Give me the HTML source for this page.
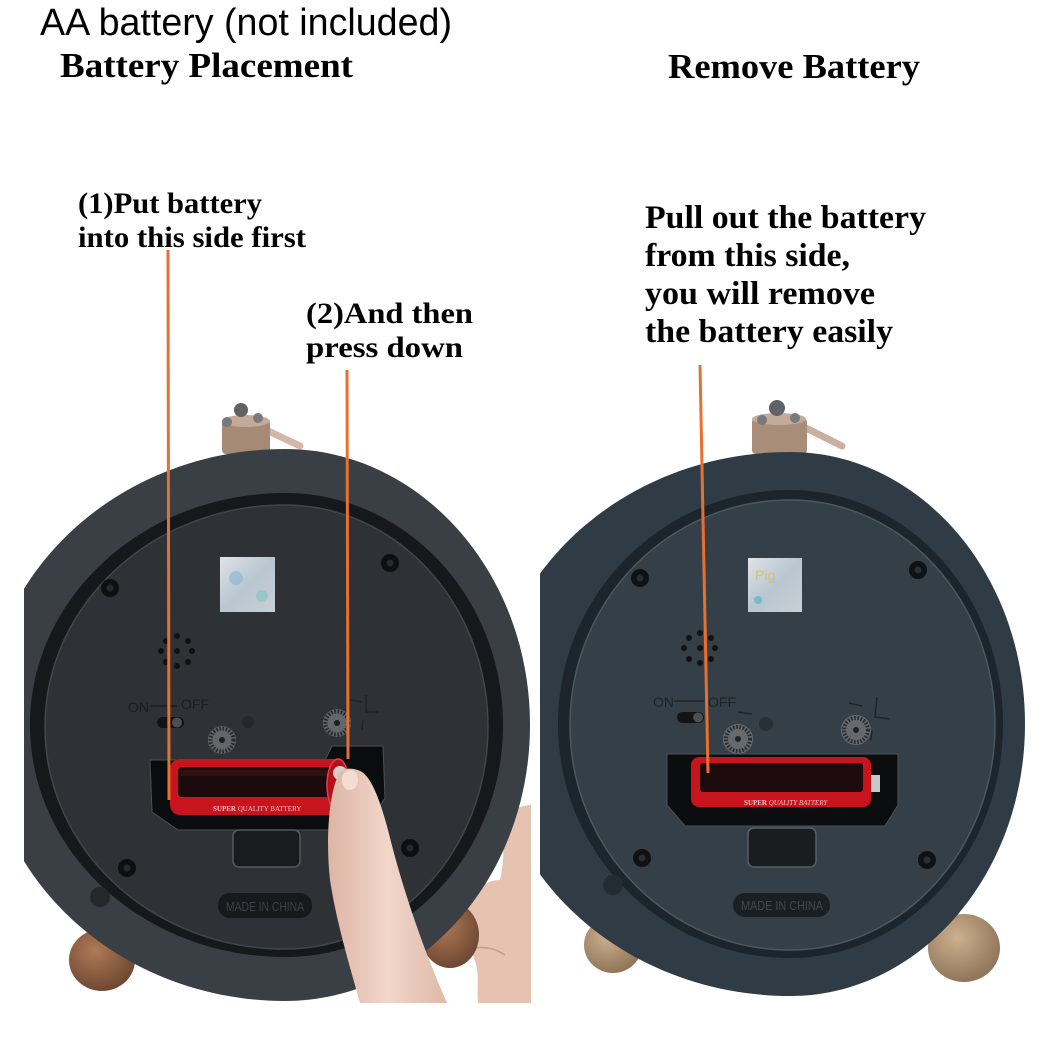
<!DOCTYPE html>
<html><head><meta charset="utf-8"><style>
html,body{margin:0;padding:0;background:#fff;}
svg{display:block;}
</style></head><body>
<svg width="1049" height="1048" viewBox="0 0 1049 1048" xmlns="http://www.w3.org/2000/svg">
<defs>
<clipPath id="cl"><rect x="24" y="395" width="507" height="608"/></clipPath>
<clipPath id="cr"><rect x="540" y="395" width="490" height="608"/></clipPath>
<radialGradient id="footL" cx="40%" cy="35%" r="70%"><stop offset="0" stop-color="#b07a55"/><stop offset="1" stop-color="#6a4530"/></radialGradient>
<radialGradient id="footR" cx="40%" cy="35%" r="70%"><stop offset="0" stop-color="#cdb08e"/><stop offset="1" stop-color="#8d7156"/></radialGradient>
<linearGradient id="stk" x1="0" y1="0" x2="1" y2="1"><stop offset="0" stop-color="#dfe3e7"/><stop offset="0.5" stop-color="#b9c6d0"/><stop offset="1" stop-color="#c9cfd4"/></linearGradient>
<linearGradient id="skin" x1="0" y1="0" x2="1" y2="0"><stop offset="0" stop-color="#dcb5a5"/><stop offset="0.5" stop-color="#f1d6ca"/><stop offset="1" stop-color="#dfb9a8"/></linearGradient>
</defs>
<rect width="1049" height="1048" fill="#fff"/>

<!-- ============ LEFT PHOTO ============ -->
<g clip-path="url(#cl)">
  <path d="M506,812 C515,808 526,805 531,805 L531,1003 L478,1003 C476,985 482,970 470,950 C462,935 462,915 470,900 C478,885 490,880 500,880 C505,860 503,835 506,812 Z" fill="#e6c2b1"/>
  <path d="M470,950 C480,945 495,948 505,955" stroke="#c99c88" stroke-width="1.5" fill="none"/>
  <ellipse cx="102" cy="960" rx="33" ry="31" fill="url(#footL)"/>
  <ellipse cx="450" cy="935" rx="29" ry="33" fill="url(#footL)"/>
  <path d="M262,428 L300,446" stroke="#d3b8aa" stroke-width="7" stroke-linecap="round"/>
  <rect x="222" y="420" width="48" height="34" rx="4" fill="#a58a75"/>
  <ellipse cx="246" cy="421" rx="24" ry="6" fill="#c4ab99"/>
  <circle cx="241" cy="410" r="7" fill="#5f6166"/>
  <circle cx="227" cy="422" r="5" fill="#77797d"/>
  <circle cx="258" cy="418" r="5" fill="#77797d"/>
  <path d="M285,449 C420.3,449 530,572.6 530,725 C530,877.4 420.3,1001 285,1001 C119.3,1001 -15,877.4 -15,725 C-15,572.6 119.3,449 285,449 Z" fill="#393f45"/>
  <path d="M285,493 C405.4,493 503,596.9 503,725 C503,853.1 405.4,957 285,957 C144.2,957 30,853.1 30,725 C30,596.9 144.2,493 285,493 Z" fill="#16181b"/>
  <path d="M285,505 C397.1,505 488,604.4 488,727 C488,849.6 397.1,949 285,949 C152.4,949 45,849.6 45,727 C45,604.4 152.4,505 285,505 Z" fill="#2e3236" stroke="#40464b" stroke-width="1.5"/>
  <circle cx="100" cy="897" r="10" fill="#24282b"/>
  <rect x="220" y="557" width="55" height="55" fill="url(#stk)"/>
  <circle cx="236" cy="578" r="7" fill="#86b7d6" opacity="0.6"/>
  <circle cx="262" cy="596" r="6" fill="#7ac2c0" opacity="0.5"/>
  <g fill="#0d0f10"><circle cx="110" cy="588" r="9"/><circle cx="390" cy="563" r="9"/><circle cx="127" cy="868" r="9"/><circle cx="410" cy="848" r="9"/></g>
  <g fill="#272a2d"><circle cx="110" cy="588" r="3.5"/><circle cx="390" cy="563" r="3.5"/><circle cx="127" cy="868" r="3.5"/><circle cx="410" cy="848" r="3.5"/></g>
  <g fill="#0e1011"><circle cx="166" cy="641" r="3"/><circle cx="177" cy="636" r="3"/><circle cx="188" cy="641" r="3"/><circle cx="161" cy="651" r="3"/><circle cx="177" cy="651" r="3"/><circle cx="192" cy="651" r="3"/><circle cx="166" cy="662" r="3"/><circle cx="177" cy="666" r="3"/><circle cx="188" cy="662" r="3"/></g>
  <text x="128" y="712" font-family="Liberation Sans, sans-serif" font-size="14" fill="#1a1d20">ON</text>
  <text x="181" y="709" font-family="Liberation Sans, sans-serif" font-size="14" fill="#1a1d20">OFF</text>
  <line x1="150" y1="706" x2="177" y2="706" stroke="#1a1d20" stroke-width="1.5"/>
  <rect x="157" y="717" width="27" height="11" rx="5.5" fill="#111315"/>
  <circle cx="177" cy="722.5" r="5" fill="#4a4f53"/>
  <g><circle cx="222" cy="740" r="14" fill="#62676b"/><circle cx="222" cy="740" r="11.5" fill="none" stroke="#25282b" stroke-width="4" stroke-dasharray="1.6 1.6"/><circle cx="222" cy="740" r="3" fill="#1e1e1e"/></g>
  <g><circle cx="337" cy="723" r="14" fill="#62676b"/><circle cx="337" cy="723" r="11.5" fill="none" stroke="#25282b" stroke-width="4" stroke-dasharray="1.6 1.6"/><circle cx="337" cy="723" r="3" fill="#1e1e1e"/></g>
  <circle cx="248" cy="722" r="6" fill="#24282b"/>
  <path d="M350,700 L362,702 M366,695 L366,712 L378,712 M363,720 L362,730" stroke="#1f2326" stroke-width="1.5" fill="none"/>
  <path d="M150,760 L325,760 L332,746 L383,746 L385,798 L372,818 L362,830 L178,830 L152,812 Z" fill="#0b0c0d" stroke="#4a5055" stroke-width="1"/>
  <rect x="233" y="830" width="67" height="37" rx="6" fill="#191c1e" stroke="#545a5f" stroke-width="1.5"/>
  <rect x="170" y="759" width="175" height="56" rx="10" fill="#c8141c"/>
  <rect x="178" y="767" width="157" height="30" rx="4" fill="#1c0a0c"/>
  <rect x="180" y="770" width="150" height="6" fill="#3a1216" opacity="0.7"/>
  <ellipse cx="338" cy="785" rx="11" ry="26" fill="#b3101a" stroke="#e0404a" stroke-width="1.5"/>
  <circle cx="340" cy="773" r="7" fill="#cfcfcf"/>
  <text x="213" y="811" font-family="Liberation Serif, serif" font-size="7" font-weight="bold" fill="#f0c0c0">SUPER <tspan font-weight="normal">QUALITY BATTERY</tspan></text>
  <rect x="218" y="893" width="94" height="25" rx="12" fill="#17191c"/>
  <text x="226" y="911" font-family="Liberation Sans, sans-serif" font-size="13" fill="#3a4046" textLength="78" lengthAdjust="spacingAndGlyphs">MADE IN CHINA</text>
  <path d="M337,778 C338,768 352,766 362,772 C372,779 380,800 388,830 C398,870 415,930 447,1003 L360,1003 C348,960 336,920 330,880 C326,845 328,800 337,778 Z" fill="url(#skin)"/>
  <ellipse cx="350" cy="780" rx="8" ry="10" fill="#f3ddd3"/>
</g>

<!-- ============ RIGHT PHOTO ============ -->
<g clip-path="url(#cr)">
  <ellipse cx="613" cy="945" rx="29" ry="28" fill="url(#footR)"/>
  <ellipse cx="964" cy="948" rx="36" ry="34" fill="url(#footR)"/>
  <path d="M800,425 L842,446" stroke="#c9b0a0" stroke-width="7" stroke-linecap="round"/>
  <rect x="752" y="418" width="55" height="36" rx="4" fill="#a88d78"/>
  <ellipse cx="779" cy="419" rx="27" ry="6" fill="#c4ab99"/>
  <circle cx="777" cy="408" r="8" fill="#606267"/>
  <circle cx="762" cy="420" r="5" fill="#77797d"/>
  <circle cx="795" cy="418" r="5" fill="#77797d"/>
  <path d="M790,452 C919.8,452 1025,573.8 1025,724 C1025,874.2 919.8,996 790,996 C624.3,996 490,874.2 490,724 C490,573.8 624.3,452 790,452 Z" fill="#2f3c45"/>
  <path d="M790,490 C907.6,490 1003,594.8 1003,724 C1003,853.2 907.6,958 790,958 C661.9,958 558,853.2 558,724 C558,594.8 661.9,490 790,490 Z" fill="#1c252b"/>
  <path d="M790,500 C903.2,500 995,600.7 995,725 C995,849.3 903.2,950 790,950 C668.5,950 570,849.3 570,725 C570,600.7 668.5,500 790,500 Z" fill="#353f47" stroke="#4b5860" stroke-width="1.5"/>
  <circle cx="613" cy="885" r="10" fill="#232c33"/>
  <rect x="748" y="558" width="54" height="54" fill="url(#stk)"/>
  <text x="755" y="580" font-family="Liberation Sans, sans-serif" font-size="14" fill="#d8c06a">Pig</text>
  <circle cx="758" cy="600" r="4" fill="#58b7c0" opacity="0.7"/>
  <g fill="#0f1113"><circle cx="640" cy="578" r="9"/><circle cx="918" cy="570" r="9"/><circle cx="642" cy="858" r="9"/><circle cx="927" cy="860" r="9"/></g>
  <g fill="#2a2e32"><circle cx="640" cy="578" r="3.5"/><circle cx="918" cy="570" r="3.5"/><circle cx="642" cy="858" r="3.5"/><circle cx="927" cy="860" r="3.5"/></g>
  <g fill="#101214"><circle cx="689" cy="638" r="3"/><circle cx="700" cy="633" r="3"/><circle cx="711" cy="638" r="3"/><circle cx="684" cy="648" r="3"/><circle cx="700" cy="648" r="3"/><circle cx="715" cy="648" r="3"/><circle cx="689" cy="659" r="3"/><circle cx="700" cy="663" r="3"/><circle cx="711" cy="659" r="3"/></g>
  <text x="653" y="707" font-family="Liberation Sans, sans-serif" font-size="14" fill="#1e2428">ON</text>
  <text x="708" y="707" font-family="Liberation Sans, sans-serif" font-size="14" fill="#1e2428">OFF</text>
  <line x1="674" y1="701" x2="704" y2="701" stroke="#1e2428" stroke-width="1.5"/>
  <rect x="677" y="712" width="27" height="11" rx="5.5" fill="#121416"/>
  <circle cx="698" cy="717.5" r="5" fill="#4a4f53"/>
  <g><circle cx="738" cy="739" r="15" fill="#656a6f"/><circle cx="738" cy="739" r="12" fill="none" stroke="#272a2d" stroke-width="4" stroke-dasharray="1.6 1.6"/><circle cx="738" cy="739" r="3" fill="#222"/></g>
  <g><circle cx="856" cy="730" r="15" fill="#656a6f"/><circle cx="856" cy="730" r="12" fill="none" stroke="#272a2d" stroke-width="4" stroke-dasharray="1.6 1.6"/><circle cx="856" cy="730" r="3" fill="#222"/></g>
  <circle cx="766" cy="724" r="7" fill="#283036"/>
  <path d="M738,712 L752,714 M849,703 L862,706 M877,697 L875,717 L890,719 M872,730 L871,740" stroke="#1e2428" stroke-width="1.5" fill="none"/>
  <path d="M667,754 L898,754 L898,805 L885,826 L685,826 L667,805 Z" fill="#0c0d0e" stroke="#4c5358" stroke-width="1"/>
  <rect x="748" y="828" width="68" height="39" rx="6" fill="#1a1d20" stroke="#566066" stroke-width="1.5"/>
  <rect x="691" y="757" width="180" height="50" rx="8" fill="#c8141c"/>
  <rect x="700" y="763" width="163" height="29" rx="3" fill="#1e0b0d"/>
  <rect x="871" y="775" width="9" height="17" fill="#c8c8c8"/>
  <text x="744" y="805" font-family="Liberation Serif, serif" font-size="7" font-weight="bold" fill="#f0c0c0">SUPER <tspan font-weight="normal" font-style="italic">QUALITY BATTERY</tspan></text>
  <rect x="733" y="893" width="97" height="24" rx="12" fill="#1a1f23"/>
  <text x="741" y="910" font-family="Liberation Sans, sans-serif" font-size="13" fill="#404950" textLength="82" lengthAdjust="spacingAndGlyphs">MADE IN CHINA</text>
</g>

<g stroke="#e8702f" stroke-width="3" fill="none">
  <line x1="168" y1="250" x2="169" y2="800"/>
  <line x1="347" y1="370" x2="348" y2="759"/>
  <line x1="700" y1="365" x2="708" y2="773"/>
</g>

<text x="40" y="35" font-family="Liberation Sans, sans-serif" font-size="38" fill="#000" textLength="412" lengthAdjust="spacingAndGlyphs">AA battery (not included)</text>
<g font-family="Liberation Serif, serif" font-weight="bold" fill="#000">
  <text x="60" y="77" font-size="35" textLength="293" lengthAdjust="spacingAndGlyphs">Battery Placement</text>
  <text x="668" y="78" font-size="35" textLength="252" lengthAdjust="spacingAndGlyphs">Remove Battery</text>
  <text x="78" y="213" font-size="30" textLength="184" lengthAdjust="spacingAndGlyphs">(1)Put battery</text>
  <text x="78" y="247" font-size="30" textLength="228" lengthAdjust="spacingAndGlyphs">into this side first</text>
  <text x="306" y="323" font-size="30" textLength="167" lengthAdjust="spacingAndGlyphs">(2)And then</text>
  <text x="306" y="357" font-size="30" textLength="157" lengthAdjust="spacingAndGlyphs">press down</text>
  <text x="645" y="228" font-size="33" textLength="281" lengthAdjust="spacingAndGlyphs">Pull out the battery</text>
  <text x="645" y="266" font-size="33" textLength="205" lengthAdjust="spacingAndGlyphs">from this side,</text>
  <text x="645" y="304" font-size="33" textLength="230" lengthAdjust="spacingAndGlyphs">you will remove</text>
  <text x="645" y="342" font-size="33" textLength="248" lengthAdjust="spacingAndGlyphs">the battery easily</text>
</g>
</svg>
</body></html>
